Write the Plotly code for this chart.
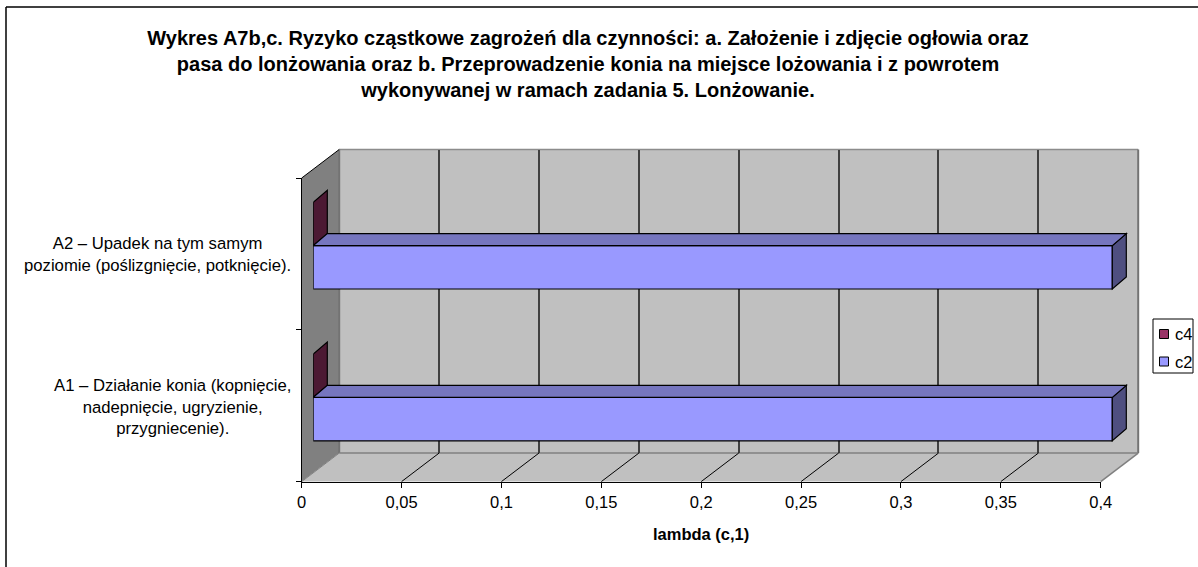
import plotly.graph_objects as go

# ---- data ----
CATEGORIES = [
    "A1 – Działanie konia (kopnięcie,<br>nadepnięcie, ugryzienie,<br>przygniecenie).",
    "A2 – Upadek na tym samym<br>poziomie (poślizgnięcie, potknięcie).",
]
CATEGORY_POS = [0, 1]
C2_VALUES = [0.4, 0.4]
C4_VALUES = [0, 0]
X_TICKS = [0, 0.05, 0.1, 0.15, 0.2, 0.25, 0.3, 0.35, 0.4]
X_TICK_LABELS = ["0", "0,05", "0,1", "0,15", "0,2", "0,25", "0,3", "0,35", "0,4"]
TITLE = ("<b>Wykres A7b,c. Ryzyko cząstkowe zagrożeń dla czynności: a. Założenie i zdjęcie ogłowia oraz<br>"
         "pasa do lonżowania oraz b. Przeprowadzenie konia na miejsce lożowania i z powrotem<br>"
         "wykonywanej w ramach zadania 5. Lonżowanie.</b>")
X_TITLE = "lambda (c,1)"

# ---- layout constants (pixels) ----
W, H = 1198, 567
FONT = "Liberation Sans"
FL, FR, FT, FB = 301.7, 1100.7, 178.0, 481.6   # front plane
WDX, WDY = 37.5, 28.5                           # wall depth
BDX, BDY = 11.6, 8.3                            # bars offset in depth
SDX, SDY = 14.0, 12.0                           # bar depth
BAR_H = 43.4
XMAX, XPAD = 0.4, 0.04
PX_PER_X = (FR - FL) / XMAX
CAT_PX = (FB - FT) / 2
LABEL_CENTERS = [172, 157]

def fx(p):
    return p / W

def fy(p):
    return 1 - p / H

def paper_poly(points, fill, line=None, width=1, layer="below"):
    path = "M " + " L ".join(f"{fx(a):.5f} {fy(b):.5f}" for a, b in points) + " Z"
    return dict(type="path", xref="paper", yref="paper", path=path, fillcolor=fill,
                line=dict(color=line or fill, width=width if line else 0), layer=layer)

def paper_line(a, b, c, d, color, width=1, layer="below"):
    return dict(type="line", xref="paper", yref="paper", x0=fx(a), y0=fy(b), x1=fx(c), y1=fy(d),
                line=dict(color=color, width=width), layer=layer)

def paper_rect(a, b, c, d, fill, line, width=1, layer="above"):
    return dict(type="rect", xref="paper", yref="paper", x0=fx(a), y0=fy(b), x1=fx(c), y1=fy(d),
                fillcolor=fill, line=dict(color=line, width=width), layer=layer)

fig = go.Figure()
fig.add_trace(go.Bar(name="c2", y=CATEGORY_POS, x=C2_VALUES, orientation="h", xaxis="x2", yaxis="y2",
                     marker=dict(color="#9999FF", line=dict(color="black", width=1.2))))
fig.add_trace(go.Bar(name="c4", y=CATEGORY_POS, x=C4_VALUES, orientation="h", xaxis="x2", yaxis="y2",
                     marker=dict(color="#993366", line=dict(color="black", width=1.2))))

shapes = [
    # chart frame
    paper_line(6, 7, W, 7, "black", 1.5),
    paper_line(6, 7, 6, H, "black", 1.5),
    # walls and floor
    paper_poly([(FL + WDX, FT - WDY), (FR + WDX, FT - WDY), (FR + WDX, FB - WDY), (FL + WDX, FB - WDY)], "#C0C0C0"),
    paper_poly([(FL, FT), (FL + WDX, FT - WDY), (FL + WDX, FB - WDY), (FL, FB)], "#808080"),
    paper_poly([(FL, FB), (FL + WDX, FB - WDY), (FR + WDX, FB - WDY), (FR, FB)], "#C0C0C0"),
    paper_line(FL + WDX, FT - WDY, FR + WDX, FT - WDY, "#8C8C8C", 1.5),
    paper_line(FR + WDX, FT - WDY, FR + WDX, FB - WDY, "#737373", 2),
    paper_line(FL + WDX, FT - WDY, FL + WDX, FB - WDY, "#737373", 2),
    paper_line(FL + WDX, FB - WDY, FR + WDX, FB - WDY, "#808080", 1.5),
    paper_line(FL, FT, FL + WDX, FT - WDY, "black", 1),
    paper_line(FL, FB, FL + WDX, FB - WDY, "#808080", 1),
    paper_line(FR, FB, FR + WDX, FB - WDY, "#808080", 1.5),
]

# floor lines, anchored on the front x axis
for v in X_TICKS[1:-1]:
    shapes.append(dict(type="line", xref="x3", xsizemode="pixel", xanchor=v, x0=0, x1=WDX,
                       yref="paper", y0=fy(FB), y1=fy(FB - WDY),
                       line=dict(color="black", width=1), layer="above"))

# 3-d faces of the bars, anchored on the bars' own axes
DX = SDX / PX_PER_X

def bar_faces(values, top_offset, side_color, top_color):
    out = []
    for pos, v in zip(CATEGORY_POS, values):
        top = BAR_H + top_offset
        bottom = top_offset
        side = f"M {v} {top} L {v + DX} {top + SDY} L {v + DX} {bottom + SDY} L {v} {bottom} Z"
        out.append(dict(type="path", xref="x2", yref="y2", ysizemode="pixel", yanchor=pos, path=side,
                        fillcolor=side_color, line=dict(color="black", width=1.2), layer="above"))
        if v > 0:
            cap = f"M 0 {top} L {DX} {top + SDY} L {v + DX} {top + SDY} L {v} {top} Z"
            out.append(dict(type="path", xref="x2", yref="y2", ysizemode="pixel", yanchor=pos, path=cap,
                            fillcolor=top_color, line=dict(color="black", width=1.2), layer="above"))
    return out

shapes += bar_faces(C4_VALUES, 0, "#4C1933", "#732649")
shapes += bar_faces(C2_VALUES, -BAR_H, "#4F4F80", "#7676BF")

# legend
shapes += [
    paper_rect(1153, 319, 1193, 373, "white", "black", 1),
    paper_rect(1159.5, 329.5, 1168.5, 338.5, "#993366", "black", 1),
    paper_rect(1159.5, 357, 1168.5, 366, "#9999FF", "black", 1),
]

annotations = []
for pos, label, cx in zip(CATEGORY_POS, CATEGORIES, LABEL_CENTERS):
    annotations.append(dict(text=label, xref="paper", yref="y3", x=fx(cx), y=pos, yshift=-1,
                            xanchor="center", yanchor="middle", align="center", showarrow=False,
                            font=dict(family=FONT, size=16.7, color="black")))
annotations.append(dict(text=f"<b>{X_TITLE}</b>", xref="x3", yref="paper", x=XMAX / 2, y=fy(534),
                        xanchor="center", yanchor="middle", showarrow=False,
                        font=dict(family=FONT, size=16.5, color="black")))
for name, yy in (("c4", 334), ("c2", 362)):
    annotations.append(dict(text=name, xref="paper", yref="paper", x=fx(1172.5), y=fy(yy),
                            xanchor="left", yanchor="middle", showarrow=False,
                            font=dict(family=FONT, size=16.5, color="black")))

hidden = dict(visible=False, fixedrange=True)
fig.update_layout(
    width=W, height=H, margin=dict(l=0, r=0, t=0, b=0, autoexpand=False), autosize=False,
    title=dict(text=TITLE, xref="paper", yref="paper", x=fx(588), xanchor="center", y=fy(45), yanchor="top",
               font=dict(family=FONT, size=20, color="black")),
    paper_bgcolor="white", plot_bgcolor="rgba(0,0,0,0)",
    showlegend=False, barmode="group", bargap=1 - 2 * BAR_H / CAT_PX, bargroupgap=0,
    font=dict(family=FONT, color="black"),
    # back wall with its gridlines
    xaxis=dict(domain=[fx(FL + WDX), fx(FR + WDX)], range=[0, XMAX], anchor="y", showgrid=True,
               tickvals=X_TICKS[1:-1], showticklabels=False, ticks="", gridcolor="#404040",
               gridwidth=1.5, zeroline=False, showline=False),
    yaxis=dict(domain=[fy(FB - WDY), fy(FT - WDY)], range=[-0.5, 1.5], anchor="x", showgrid=False,
               showticklabels=False, ticks="", zeroline=False, showline=False),
    # bars
    xaxis2=dict(domain=[fx(FL + BDX), fx(FR + BDX + XPAD * PX_PER_X)], range=[0, XMAX + XPAD], anchor="y2", **hidden),
    yaxis2=dict(domain=[fy(FB - BDY), fy(FT - BDY)], range=[-0.5, 1.5], anchor="x2", **hidden),
    # front axes with labels
    xaxis3=dict(domain=[fx(FL), fx(FR)], range=[0, XMAX], anchor="y3", showgrid=False, zeroline=False,
                showline=True, linecolor="black", linewidth=1.2, ticks="outside", ticklen=5,
                tickcolor="black", tickwidth=1, tickvals=X_TICKS, ticktext=X_TICK_LABELS,
                tickfont=dict(family=FONT, size=16.5, color="black")),
    yaxis3=dict(domain=[fy(FB), fy(FT)], range=[-0.5, 1.5], anchor="x3", showgrid=False, zeroline=False,
                showline=True, linecolor="black", linewidth=1.2, ticks="outside", ticklen=5,
                tickcolor="black", tickwidth=1, tickvals=[-0.5, 0.5, 1.5], showticklabels=False),
    shapes=shapes, annotations=annotations,
)
# make sure the x3/y3 subplot exists
fig.add_trace(go.Scatter(x=[None], y=[None], xaxis="x3", yaxis="y3", showlegend=False, hoverinfo="skip"))
fig.add_trace(go.Scatter(x=[None], y=[None], xaxis="x", yaxis="y", showlegend=False, hoverinfo="skip"))

fig.write_html("out.html", config=dict(displayModeBar=False), post_script="document.body.style.margin='0';")
